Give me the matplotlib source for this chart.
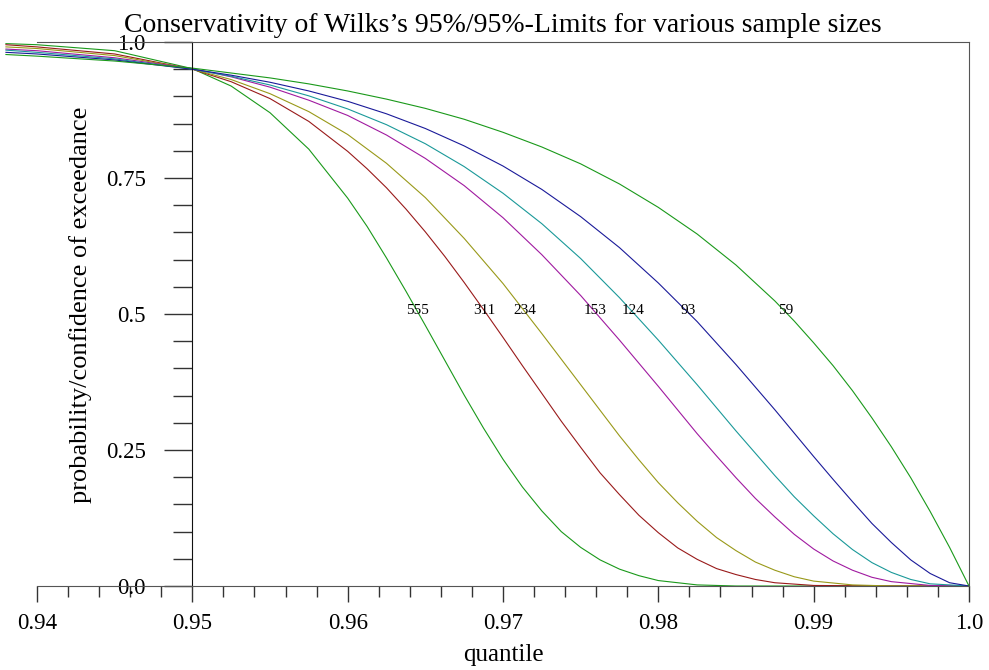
import numpy as np
import matplotlib
matplotlib.use("Agg")
import matplotlib.pyplot as plt

plt.rcParams["font.family"] = ["Liberation Serif", "DejaVu Serif"]

# quantile grids (finer where a curve bends most)
q_59_93 = [0.938, 0.94, 0.945, 0.95, 0.9525, 0.955, 0.9575, 0.96, 0.9625, 0.965,
           0.9675, 0.97, 0.9725, 0.975, 0.9775, 0.98, 0.9825, 0.985, 0.9875, 0.98875,
           0.99, 0.99125, 0.9925, 0.99375, 0.995, 0.99625, 0.9975, 0.99875, 1.0]
q124 = [0.938, 0.94, 0.945, 0.95, 0.9525, 0.955, 0.9575, 0.96, 0.9625, 0.965,
        0.9675, 0.97, 0.9725, 0.975, 0.9775, 0.98, 0.9825, 0.985, 0.98625, 0.9875,
        0.98875, 0.99, 0.99125, 0.9925, 0.99375, 0.995, 0.99625, 0.9975, 1.0]
q153 = [0.938, 0.94, 0.945, 0.95, 0.9525, 0.955, 0.9575, 0.96, 0.9625, 0.965,
        0.9675, 0.97, 0.9725, 0.975, 0.9775, 0.98, 0.9825, 0.98375, 0.985, 0.98625,
        0.9875, 0.98875, 0.99, 0.99125, 0.9925, 0.99375, 0.995, 0.9975, 1.0]
q234 = [0.938, 0.94, 0.945, 0.95, 0.9525, 0.955, 0.9575, 0.96, 0.9625, 0.965,
        0.9675, 0.97, 0.9725, 0.975, 0.9775, 0.97875, 0.98, 0.98125, 0.9825, 0.98375,
        0.985, 0.98625, 0.9875, 0.98875, 0.99, 0.9925, 0.995, 1.0]
q311 = [0.938, 0.94, 0.945, 0.95, 0.9525, 0.955, 0.9575, 0.96, 0.96125, 0.9625,
        0.96375, 0.965, 0.96625, 0.9675, 0.96875, 0.97, 0.97125, 0.9725, 0.97375,
        0.975, 0.97625, 0.9775, 0.97875, 0.98, 0.98125, 0.9825, 0.98375, 0.985,
        0.98625, 0.9875, 0.99, 0.995, 1.0]
q555 = [0.938, 0.94, 0.945, 0.95, 0.9525, 0.955, 0.9575, 0.96, 0.96125, 0.9625,
        0.96375, 0.965, 0.96625, 0.9675, 0.96875, 0.97, 0.97125, 0.9725, 0.97375,
        0.975, 0.97625, 0.9775, 0.97875, 0.98, 0.9825, 0.985, 0.99, 1.0]

n59 = [0.977, 0.974, 0.965, 0.952, 0.943, 0.934, 0.923, 0.910, 0.895, 0.878,
       0.858, 0.834, 0.807, 0.776, 0.739, 0.696, 0.647, 0.590, 0.524, 0.487,
       0.447, 0.405, 0.359, 0.309, 0.256, 0.199, 0.137, 0.071, 0.0]
n93 = [0.981, 0.978, 0.967, 0.950, 0.939, 0.926, 0.910, 0.891, 0.868, 0.841,
       0.809, 0.772, 0.729, 0.679, 0.622, 0.557, 0.486, 0.407, 0.324, 0.281,
       0.238, 0.196, 0.155, 0.115, 0.080, 0.048, 0.023, 0.006, 0.0]
n124 = [0.985, 0.981, 0.969, 0.950, 0.937, 0.921, 0.901, 0.877, 0.848, 0.813,
        0.771, 0.722, 0.666, 0.602, 0.530, 0.452, 0.370, 0.285, 0.244, 0.203,
        0.164, 0.129, 0.096, 0.067, 0.043, 0.025, 0.012, 0.004, 0.0]
n153 = [0.987, 0.984, 0.971, 0.951, 0.936, 0.917, 0.893, 0.865, 0.829, 0.786,
        0.736, 0.677, 0.609, 0.534, 0.452, 0.367, 0.280, 0.239, 0.199, 0.161,
        0.127, 0.095, 0.068, 0.046, 0.029, 0.016, 0.008, 0.001, 0.0]
n234 = [0.991, 0.988, 0.975, 0.950, 0.931, 0.905, 0.872, 0.830, 0.777, 0.714,
        0.639, 0.556, 0.464, 0.370, 0.276, 0.232, 0.190, 0.153, 0.119, 0.089,
        0.065, 0.044, 0.029, 0.017, 0.009, 0.002, 0.0, 0.0]
n311 = [0.995, 0.991, 0.978, 0.950, 0.927, 0.896, 0.854, 0.799, 0.767, 0.732,
        0.693, 0.651, 0.606, 0.558, 0.508, 0.457, 0.405, 0.354, 0.303, 0.255,
        0.208, 0.168, 0.130, 0.098, 0.070, 0.049, 0.032, 0.021, 0.012, 0.006,
        0.001, 0.0, 0.0]
n555 = [0.997, 0.995, 0.984, 0.951, 0.919, 0.870, 0.803, 0.713, 0.661, 0.603,
        0.542, 0.479, 0.415, 0.351, 0.290, 0.233, 0.182, 0.138, 0.100,
        0.071, 0.048, 0.031, 0.019, 0.010, 0.002, 0.0, 0.0, 0.0]

sample_sizes = ["555", "311", "234", "153", "124", "93", "59"]
label_x = [0.96448, 0.96879, 0.97143, 0.97593, 0.97838, 0.98192, 0.98822]

green = "#1a991a"
curves = [
    (q555, n555, green),
    (q311, n311, "#991a1a"),
    (q234, n234, "#999919"),
    (q153, n153, "#a01aa0"),
    (q124, n124, "#1a9999"),
    (q_59_93, n93, "#1a1a99"),
    (q_59_93, n59, green),
]

fig = plt.figure(figsize=(9.89, 6.70), dpi=100)
ax = fig.add_axes([37 / 989, 84 / 670, 932 / 989, 544 / 670])

for qx, vals, col in curves:
    ax.plot(qx, vals, color=col, lw=0.8, clip_on=False)

for lx, name in zip(label_x, sample_sizes):
    ax.text(lx, 0.5, name, ha="center", va="baseline", fontsize=11)

ax.set_xlim(0.94, 1.0)
ax.set_ylim(0, 1)

ax.spines["left"].set_position(("data", 0.95))
ax.spines["left"].set_color("#111111")
for s in ["top", "right", "bottom"]:
    ax.spines[s].set_color("#555555")

ax.set_xticks(np.arange(0.94, 1.0001, 0.01))
ax.set_xticklabels(["0.94", "0.95", "0.96", "0.97", "0.98", "0.99", "1.0"])
ax.set_xticks(np.arange(0.94, 1.0001, 0.002), minor=True)
ax.set_yticks([0, 0.25, 0.5, 0.75, 1.0])
ax.set_yticklabels(["0.0", "0.25", "0.5", "0.75", "1.0"])
ax.set_yticks(np.arange(0, 1.0001, 0.05), minor=True)

ax.tick_params(axis="x", which="major", direction="out", length=11.5, width=1,
               color="#333333", labelsize=16.5, pad=8)
ax.tick_params(axis="x", which="minor", direction="out", length=8, width=1, color="#333333")
ax.tick_params(axis="y", which="major", direction="out", length=20, width=1,
               color="#333333", labelsize=16.5, pad=13.5)
ax.tick_params(axis="y", which="minor", direction="out", length=13.5, width=1, color="#333333")

ax.set_xlabel("quantile", fontsize=18, va="baseline")
ax.xaxis.set_label_coords(0.5, (586 - 661) / 544)
ax.set_ylabel("probability/confidence of exceedance", fontsize=19, va="center")
ax.yaxis.set_label_coords((81 - 37) / 932, 0.516)

ax.set_title("Conservativity of Wilks\u2019s 95%/95%-Limits for various sample sizes",
             fontsize=20, pad=7)

fig.savefig("out.png", dpi=100)
